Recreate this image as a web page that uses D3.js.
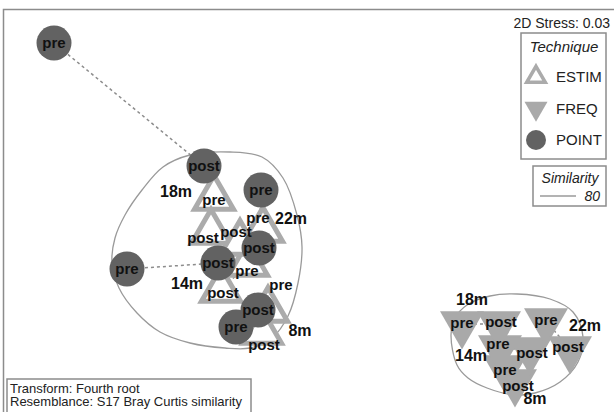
<!DOCTYPE html>
<html>
<head>
<meta charset="utf-8">
<script src="https://cdn.jsdelivr.net/npm/d3@7/dist/d3.min.js"></script>
<style>
  html, body { margin: 0; padding: 0; background: #fff; }
  svg { display: block; font-family: "Liberation Sans", Arial, sans-serif; }
</style>
</head>
<body>
<svg id="chart" width="614" height="412"></svg>
<script>
// nMDS ordination of samples: technique x depth x time (pre / post)
const depths = ["8m", "14m", "18m", "22m"];
const times = ["pre", "post"];
const techniques = ["ESTIM", "FREQ", "POINT"];

// MDS coordinates per depth, ordered [pre, post]
const estimMDS1 = { "18m": [-0.86, -0.89], "22m": [-0.37, -0.60], "14m": [-0.52, -0.79], "8m": [-0.32, -0.38] };
const estimMDS2 = { "18m": [0.22, -0.12], "22m": [-0.10, -0.23], "14m": [-0.44, -0.70], "8m": [-0.90, -1.12] };
const freqMDS1 = { "18m": [1.62, 1.99], "22m": [2.46, 2.70], "14m": [2.00, 2.30], "8m": [2.05, 2.15] };
const freqMDS2 = { "18m": [-1.04, -1.04], "22m": [-1.01, -1.29], "14m": [-1.28, -1.30], "8m": [-1.48, -1.62] };
const pointMDS1 = { "18m": [-2.46, -0.96], "22m": [-0.39, -0.41], "14m": [-1.73, -0.82], "8m": [-0.64, -0.42] };
const pointMDS2 = { "18m": [1.77, 0.54], "22m": [0.30, -0.28], "14m": [-0.49, -0.43], "8m": [-1.07, -0.90] };

// depth annotations placed in MDS space
const depthLabelText = ["18m", "22m", "14m", "8m", "18m", "22m", "14m", "8m"];
const depthLabelMDS1 = [-1.24, -0.09, -1.13, 0.00, 1.72, 2.85, 1.71, 2.35];
const depthLabelMDS2 = [0.29, 0.02, -0.63, -1.10, -0.79, -1.05, -1.35, -1.78];

// 80% similarity contours
const contourA1 = [-0.70, -0.38, -0.17, -0.03, 0.02, -0.02, -0.12, -0.28, -0.50, -0.75, -1.10, -1.40, -1.63, -1.81, -1.88, -1.85, -1.75, -1.58, -1.37, -1.10];
const contourA2 = [0.68, 0.63, 0.42, 0.05, -0.27, -0.63, -0.96, -1.18, -1.28, -1.28, -1.23, -1.12, -0.93, -0.68, -0.42, -0.18, 0.05, 0.30, 0.53, 0.65];
const contourB1 = [1.51, 1.57, 1.68, 1.87, 2.15, 2.35, 2.60, 2.78, 2.83, 2.73, 2.50, 2.17, 1.90, 1.67, 1.55];
const contourB2 = [-1.15, -1.45, -1.58, -1.68, -1.75, -1.73, -1.62, -1.42, -1.17, -0.92, -0.79, -0.74, -0.76, -0.85, -0.98];

const stressText = "2D Stress: 0.03";
const similarityLevel = "80";
const notes = ["Transform: Fourth root", "Resemblance: S17 Bray Curtis similarity"];

// sample label nudges (px) where the label sits off the symbol centre
const labelNudge = {
  "ESTIM 18m pre": [0, 2], "ESTIM 18m post": [-8, 6], "ESTIM 22m pre": [-5, -12], "ESTIM 22m post": [-4, -11],
  "ESTIM 14m pre": [-1, 7], "ESTIM 14m post": [2, 3], "ESTIM 8m pre": [13, -25], "ESTIM 8m post": [2, 13],
  "FREQ 18m pre": [0, -1], "FREQ 18m post": [2, -2], "FREQ 22m pre": [0, -1], "FREQ 22m post": [-2, -2],
  "FREQ 14m pre": [-2, -4], "FREQ 14m post": [2, 3], "FREQ 8m pre": [0, 2], "FREQ 8m post": [3, 4]
};

const coordTables = {
  ESTIM: [estimMDS1, estimMDS2],
  FREQ: [freqMDS1, freqMDS2],
  POINT: [pointMDS1, pointMDS2]
};

const samples = [];
techniques.forEach(tech => {
  const [t1, t2] = coordTables[tech];
  depths.forEach(dep => {
    times.forEach((tm, i) => {
      samples.push({ tech, depth: dep, time: tm, m1: t1[dep][i], m2: t2[dep][i] });
    });
  });
});

const svg = d3.select("#chart");
const x = d3.scaleLinear().domain([-3, 3]).range([0, 600]);
const y = d3.scaleLinear().domain([-2, 2]).range([420, 20]);

const grey = "#8c8c8c";
const estimColor = "#ababab";
const freqColor = "#a9a9a9";
const pointColor = "#626262";

// plot frame (only top and left edges fall inside the view)
svg.append("rect")
  .attr("x", 3.5).attr("y", 9.5).attr("width", 640).attr("height", 440)
  .attr("fill", "none").attr("stroke", grey).attr("stroke-width", 1.5);

// similarity contours
const contourLine = d3.line().x(d => x(d[0])).y(d => y(d[1])).curve(d3.curveCatmullRomClosed.alpha(0.5));
[[contourA1, contourA2], [contourB1, contourB2]].forEach(([c1, c2]) => {
  svg.append("path")
    .attr("d", contourLine(c1.map((v, i) => [v, c2[i]])))
    .attr("fill", "none").attr("stroke", "#9a9a9a").attr("stroke-width", 1.3);
});

// pre -> post trajectories, drawn beneath the symbols
const pairs = [];
techniques.forEach(tech => depths.forEach(dep => {
  const a = samples.find(s => s.tech === tech && s.depth === dep && s.time === "pre");
  const b = samples.find(s => s.tech === tech && s.depth === dep && s.time === "post");
  pairs.push([a, b]);
}));
svg.append("g").selectAll("line").data(pairs).join("line")
  .attr("x1", d => x(d[0].m1)).attr("y1", d => y(d[0].m2))
  .attr("x2", d => x(d[1].m1)).attr("y2", d => y(d[1].m2))
  .attr("stroke", grey).attr("stroke-width", 1.5).attr("stroke-dasharray", "3,3");

// symbols
const gSym = svg.append("g");
gSym.selectAll("path.freq").data(samples.filter(s => s.tech === "FREQ")).join("path")
  .attr("class", "freq")
  .attr("d", d3.symbol().type(d3.symbolTriangle).size(840)())
  .attr("transform", d => `translate(${x(d.m1)},${y(d.m2)}) rotate(180)`)
  .attr("fill", freqColor);
gSym.selectAll("path.estim").data(samples.filter(s => s.tech === "ESTIM")).join("path")
  .attr("class", "estim")
  .attr("d", d3.symbol().type(d3.symbolTriangle).size(660)())
  .attr("transform", d => `translate(${x(d.m1)},${y(d.m2)})`)
  .attr("fill", "#fff").attr("stroke", estimColor).attr("stroke-width", 5).attr("stroke-linejoin", "miter");
gSym.selectAll("circle.point").data(samples.filter(s => s.tech === "POINT")).join("circle")
  .attr("class", "point")
  .attr("cx", d => x(d.m1)).attr("cy", d => y(d.m2)).attr("r", 17.5)
  .attr("fill", pointColor);

// sample labels
svg.append("g").selectAll("text").data(samples).join("text")
  .attr("x", d => x(d.m1) + (labelNudge[`${d.tech} ${d.depth} ${d.time}`] || [0, 0])[0])
  .attr("y", d => y(d.m2) + (labelNudge[`${d.tech} ${d.depth} ${d.time}`] || [0, 0])[1])
  .attr("dy", "0.3em")
  .attr("text-anchor", "middle")
  .attr("font-size", 15).attr("font-weight", "bold").attr("fill", "#111")
  .text(d => d.time);

// depth annotations
svg.append("g").selectAll("text").data(depthLabelText).join("text")
  .attr("x", (d, i) => x(depthLabelMDS1[i]))
  .attr("y", (d, i) => y(depthLabelMDS2[i]))
  .attr("dy", "0.36em")
  .attr("text-anchor", "middle")
  .attr("font-size", 16).attr("font-weight", "bold").attr("fill", "#111")
  .text(d => d);

// stress value
svg.append("text")
  .attr("x", 610).attr("y", 23).attr("dy", "0.36em")
  .attr("text-anchor", "end").attr("font-size", 14).attr("fill", "#222")
  .text(stressText);

// technique legend
const lg = svg.append("g");
lg.append("rect").attr("x", 521).attr("y", 33).attr("width", 85).attr("height", 126)
  .attr("fill", "#fff").attr("stroke", grey).attr("stroke-width", 1.5);
lg.append("text").attr("x", 564).attr("y", 47).attr("dy", "0.36em")
  .attr("text-anchor", "middle").attr("font-size", 15).attr("font-style", "italic").attr("fill", "#222")
  .text("Technique");
const rowY = d3.scalePoint().domain(techniques).range([77, 140]);
lg.selectAll("path.lsym").data(techniques.filter(t => t !== "POINT")).join("path")
  .attr("class", "lsym")
  .attr("d", t => d3.symbol().type(d3.symbolTriangle).size(t === "ESTIM" ? 150 : 230)())
  .attr("transform", t => `translate(536,${rowY(t)})` + (t === "FREQ" ? " rotate(180)" : ""))
  .attr("fill", t => t === "ESTIM" ? "#fff" : freqColor)
  .attr("stroke", t => t === "ESTIM" ? estimColor : "none")
  .attr("stroke-width", 3.5);
lg.append("circle").attr("cx", 536).attr("cy", rowY("POINT")).attr("r", 10).attr("fill", pointColor);
lg.selectAll("text.ltxt").data(techniques).join("text")
  .attr("class", "ltxt")
  .attr("x", 556).attr("y", d => rowY(d)).attr("dy", "0.36em")
  .attr("font-size", 15).attr("fill", "#222")
  .text(d => d);

// similarity legend
const sg = svg.append("g");
sg.append("rect").attr("x", 533).attr("y", 166).attr("width", 73).attr("height", 40)
  .attr("fill", "#fff").attr("stroke", grey).attr("stroke-width", 1.5);
sg.append("text").attr("x", 570).attr("y", 178).attr("dy", "0.36em")
  .attr("text-anchor", "middle").attr("font-size", 14).attr("font-style", "italic").attr("fill", "#222")
  .text("Similarity");
sg.append("line").attr("x1", 540).attr("x2", 576).attr("y1", 196).attr("y2", 196)
  .attr("stroke", "#9a9a9a").attr("stroke-width", 1.3);
sg.append("text").attr("x", 600).attr("y", 196).attr("dy", "0.36em")
  .attr("text-anchor", "end").attr("font-size", 14).attr("font-style", "italic").attr("fill", "#222")
  .text(similarityLevel);

// analysis notes
const ng = svg.append("g");
ng.append("rect").attr("x", 7).attr("y", 379).attr("width", 244).attr("height", 50)
  .attr("fill", "#fff").attr("stroke", grey).attr("stroke-width", 1.5);
ng.selectAll("text").data(notes).join("text")
  .attr("x", 10).attr("y", (d, i) => 388 + i * 13.5).attr("dy", "0.36em")
  .attr("font-size", 13).attr("fill", "#222")
  .text(d => d);
</script>
</body>
</html>
